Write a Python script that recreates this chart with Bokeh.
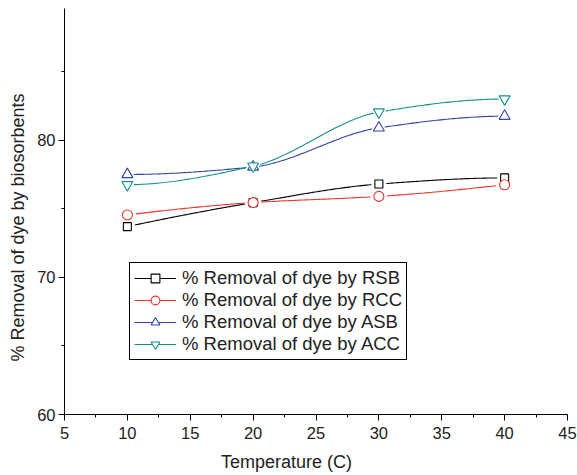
import numpy as np
from bokeh.plotting import figure
from bokeh.models import (Range1d, FixedTicker, Legend, LegendItem, Label)
from bokeh.embed import file_html
from bokeh.resources import INLINE

# ---- data ----
temperature = [10, 20, 30, 40]
rsb = [73.7, 75.45, 76.8, 77.25]
rcc = [74.55, 75.45, 75.9, 76.75]
asb = [77.5, 78.05, 80.9, 81.75]
acc = [76.75, 78.1, 82.05, 83.0]
series_names = ["% Removal of dye by RSB", "% Removal of dye by RCC",
                "% Removal of dye by ASB", "% Removal of dye by ACC"]
x_ticks = [5, 10, 15, 20, 25, 30, 35, 40, 45]
y_ticks = [60, 70, 80]
x_title = "Temperature (C)"
y_title = "% Removal of dye by biosorbents"

FONT = "Liberation Sans"


def pchip(x, y, n=60):
    """Shape-preserving cubic (PCHIP) curve through the points, for drawing."""
    x = np.asarray(x, float)
    y = np.asarray(y, float)
    h = np.diff(x)
    d = np.diff(y) / h
    m = np.zeros_like(y)
    for k in range(1, len(x) - 1):
        if d[k - 1] * d[k] > 0:
            w1 = 2 * h[k] + h[k - 1]
            w2 = h[k] + 2 * h[k - 1]
            m[k] = (w1 + w2) / (w1 / d[k - 1] + w2 / d[k])
    def end(h0, h1, d0, d1):
        s = ((2 * h0 + h1) * d0 - h0 * d1) / (h0 + h1)
        if np.sign(s) != np.sign(d0):
            s = 0.0
        elif np.sign(d0) != np.sign(d1) and abs(s) > abs(3 * d0):
            s = 3 * d0
        return s
    m[0] = end(h[0], h[1], d[0], d[1])
    m[-1] = end(h[-1], h[-2], d[-1], d[-2])
    xs, ys = [], []
    for k in range(len(x) - 1):
        t = np.linspace(0, 1, n)
        h00 = 2 * t**3 - 3 * t**2 + 1
        h10 = t**3 - 2 * t**2 + t
        h01 = -2 * t**3 + 3 * t**2
        h11 = t**3 - t**2
        yy = h00 * y[k] + h10 * h[k] * m[k] + h01 * y[k + 1] + h11 * h[k] * m[k + 1]
        xs.extend(list(x[k] + t * h[k]))
        ys.extend(list(yy))
    return xs, ys


p = figure(width=577, height=475, output_backend="svg", toolbar_location=None,
           x_range=Range1d(5, 45), y_range=Range1d(60, 89.6))
p.min_border_left = 64
p.min_border_right = 10
p.min_border_top = 8
p.min_border_bottom = 61
p.outline_line_color = None
p.background_fill_color = "white"
p.border_fill_color = "white"
p.xgrid.visible = False
p.ygrid.visible = False

for ax in (p.xaxis[0], p.yaxis[0]):
    ax.axis_line_color = "black"
    ax.axis_line_width = 1
    ax.major_tick_line_color = "black"
    ax.minor_tick_line_color = "black"
    ax.major_tick_in = 0
    ax.major_tick_out = 6
    ax.minor_tick_in = 0
    ax.minor_tick_out = 3
    ax.major_label_text_font = FONT
    ax.major_label_text_font_size = "16.5px"
    ax.major_label_text_color = "#222222"

p.xaxis.ticker = FixedTicker(ticks=x_ticks,
                             minor_ticks=[t + 2.5 for t in x_ticks[:-1]])
p.yaxis.ticker = FixedTicker(ticks=y_ticks,
                             minor_ticks=[t + 5 for t in y_ticks])
p.xaxis.major_label_standoff = 6
p.yaxis.major_label_standoff = 3

xlab = Label(x=222, y=0, x_units="screen", y_units="screen",
             text=x_title, text_align="center", text_baseline="middle",
             text_font=FONT, text_font_size="18px", text_color="#222222")
ylab = Label(x=3, y=187, x_units="screen", y_units="screen",
             text=y_title, angle=np.pi / 2,
             text_align="center", text_baseline="middle",
             text_font=FONT, text_font_size="18px", text_color="#222222")
p.add_layout(xlab, "below")
p.add_layout(ylab, "left")

colors = ["black", "#e8352b", "#3242a8", "#15918b"]
markers = ["square", "circle", "triangle", "inverted_triangle"]
sizes = [8, 10, 11, 11]
all_y = [rsb, rcc, asb, acc]

lines = []
for yv, c in zip(all_y, colors):
    xs, ys = pchip(temperature, yv)
    lines.append(p.line(xs, ys, line_color=c, line_width=1.1))

for yv, mk, s in zip(all_y, markers, sizes):
    p.scatter(temperature, yv, marker=mk, size=s + 6, fill_color="white",
              line_color="white")

marks = []
for yv, c, mk, s in zip(all_y, colors, markers, sizes):
    marks.append(p.scatter(temperature, yv, marker=mk, size=s, fill_color="white",
                           line_color=c, line_width=1.1))

items = [LegendItem(label=n, renderers=[l, m])
         for n, l, m in zip(series_names, lines, marks)]
legend = Legend(items=items, location=(65, 54))
legend.border_line_color = "black"
legend.border_line_width = 1
legend.border_line_alpha = 1
legend.background_fill_color = "white"
legend.background_fill_alpha = 1
legend.label_text_font = FONT
legend.label_text_font_size = "18.5px"
legend.label_text_color = "#222222"
legend.padding = 4
legend.spacing = 0
legend.margin = 0
legend.label_height = 22
legend.glyph_height = 22
legend.glyph_width = 42
legend.label_standoff = 6
p.add_layout(legend)

open("out.html", "w").write(file_html(p, INLINE))
